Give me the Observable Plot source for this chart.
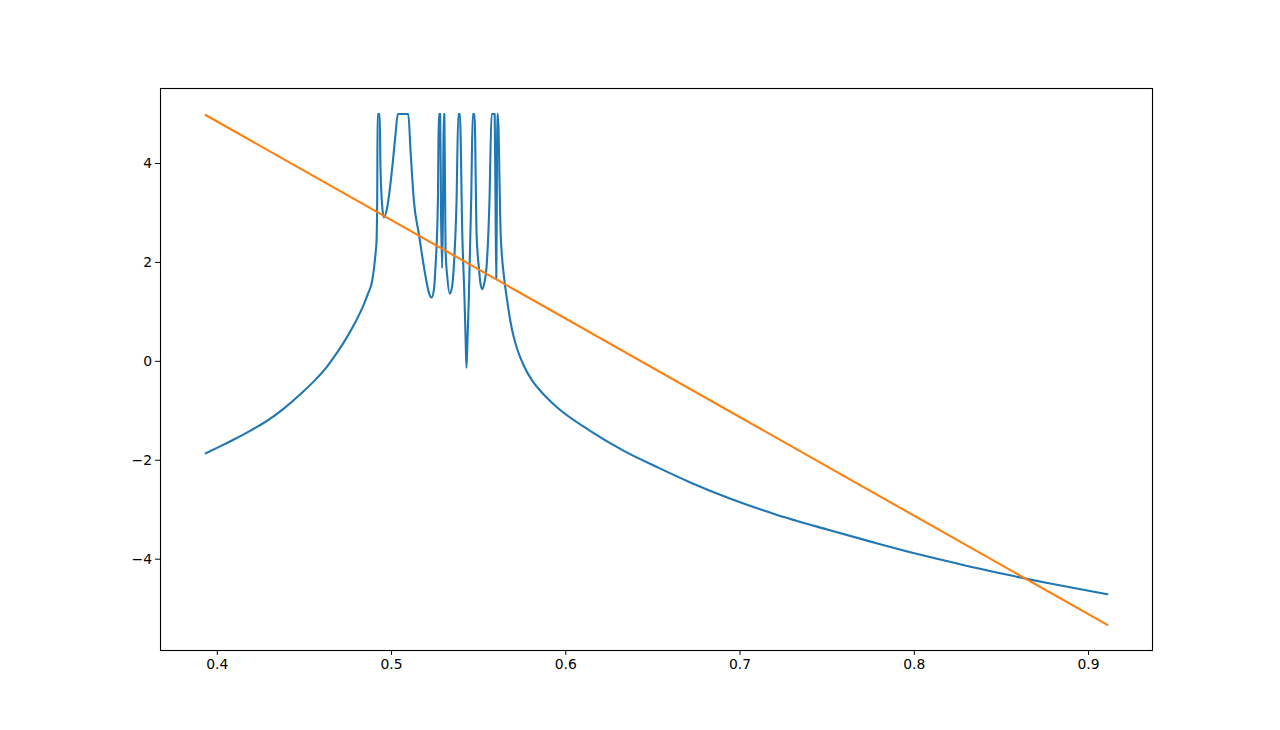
<!DOCTYPE html>
<html>
<head>
<meta charset="utf-8">
<script src="https://cdn.jsdelivr.net/npm/d3@7"></script>
<script src="https://cdn.jsdelivr.net/npm/@observablehq/plot@0.6"></script>
<style>
  html, body { margin: 0; padding: 0; background: #fff; }
  #chart { width: 1280px; height: 730px; }
  svg { font-family: "DejaVu Sans", sans-serif; }
</style>
</head>
<body>
<div id="chart"></div>
<script>
// Blue series (clipped at 5)
const blueX = [
  0.3933, 0.4010, 0.4095, 0.4191, 0.4287, 0.4383, 0.4478, 0.4555, 0.4631, 0.4690, 0.4746, 0.4795,
  0.4841, 0.4865, 0.4889, 0.4908, 0.4914, 0.4918, 0.4920,
  0.4932, 0.4936, 0.4945, 0.4956, 0.4975, 0.5004, 0.5023, 0.5036,
  0.5096, 0.5109, 0.5128, 0.5157, 0.5196, 0.5215, 0.5230, 0.5243, 0.5252, 0.5266, 0.5271,
  0.5279, 0.5284, 0.5290, 0.5295, 0.5299, 0.5303, 0.5310, 0.5320, 0.5334, 0.5346, 0.5357, 0.5373, 0.5383,
  0.5392, 0.5406, 0.5419, 0.5425, 0.5430, 0.5436, 0.5443, 0.5457, 0.5466,
  0.5476, 0.5488, 0.5501, 0.5510, 0.5520, 0.5532, 0.5545, 0.5562, 0.5574,
  0.5592, 0.5597, 0.5601, 0.5604, 0.5606, 0.5610, 0.5626, 0.5644, 0.5664, 0.5683, 0.5702, 0.5721,
  0.5759, 0.5807, 0.5855, 0.5951, 0.6142, 0.6333, 0.6525, 0.6715, 0.6945, 0.7200, 0.7500, 0.7750,
  0.8000, 0.8250, 0.8500, 0.8750, 0.9000, 0.9108
];
const blueY = [
  -1.86, -1.73, -1.58, -1.40, -1.20, -0.95, -0.66, -0.40, -0.10, 0.19, 0.50, 0.81,
  1.15, 1.37, 1.63, 2.17, 2.45, 3.5, 5.0,
  5.0, 4.0, 3.2, 2.91, 3.11, 3.92, 4.60, 5.0,
  5.0, 4.26, 3.25, 2.57, 1.70, 1.38, 1.29, 1.45, 1.90, 3.25, 5.0,
  5.0, 3.0, 1.88, 3.0, 5.0, 5.0, 2.24, 1.70, 1.37, 1.48, 1.90, 3.25, 5.0,
  5.0, 2.57, 1.22, 0.45, -0.13, 0.45, 1.22, 3.25, 5.0,
  5.0, 2.57, 1.90, 1.58, 1.46, 1.58, 1.90, 3.25, 5.0,
  5.0, 3.0, 1.66, 3.0, 5.0, 5.0, 2.60, 1.75, 1.22, 0.79, 0.48, 0.25,
  -0.09, -0.39, -0.60, -0.935, -1.41, -1.81, -2.14, -2.45, -2.78, -3.09, -3.40, -3.645,
  -3.88, -4.09, -4.29, -4.47, -4.64, -4.71
];
// Orange series (straight line)
const orangeX = [0.3933, 0.9108];
const orangeY = [4.98, -5.33];

// Tick values
const xTicks = [0.4, 0.5, 0.6, 0.7, 0.8, 0.9];
const yTicks = [-4, -2, 0, 2, 4];

const blue = blueX.map((x, i) => ({x, y: blueY[i]}));
const orange = orangeX.map((x, i) => ({x, y: orangeY[i]}));

const chart = Plot.plot({
  width: 1280,
  height: 730,
  marginLeft: 160,
  marginRight: 128,
  marginTop: 88,
  marginBottom: 80,
  style: {fontFamily: "DejaVu Sans, sans-serif", fontSize: "13.9px", color: "#000", background: "#fff"},
  x: {domain: [0.3674, 0.9367]},
  y: {domain: [-5.8465, 5.5165]},
  marks: [
    Plot.line(blue, {x: "x", y: "y", stroke: "#1f77b4", strokeWidth: 2.1, curve: "monotone-x"}),
    Plot.line(orange, {x: "x", y: "y", stroke: "#ff7f0e", strokeWidth: 2.1}),
    Plot.frame({stroke: "#000", strokeWidth: 1.1}),
    Plot.axisX({ticks: xTicks, tickSize: 4.9, tickPadding: 3.5, label: null, tickFormat: d => d.toFixed(1), fontSize: 13.9, stroke: "#000", color: "#000"}),
    Plot.axisY({ticks: yTicks, tickSize: 4.9, tickPadding: 3.5, label: null, tickFormat: d => (d < 0 ? "\u2212" + Math.abs(d) : String(d)), fontSize: 13.9, stroke: "#000", color: "#000"})
  ]
});
document.getElementById("chart").appendChild(chart);
</script>
</body>
</html>
